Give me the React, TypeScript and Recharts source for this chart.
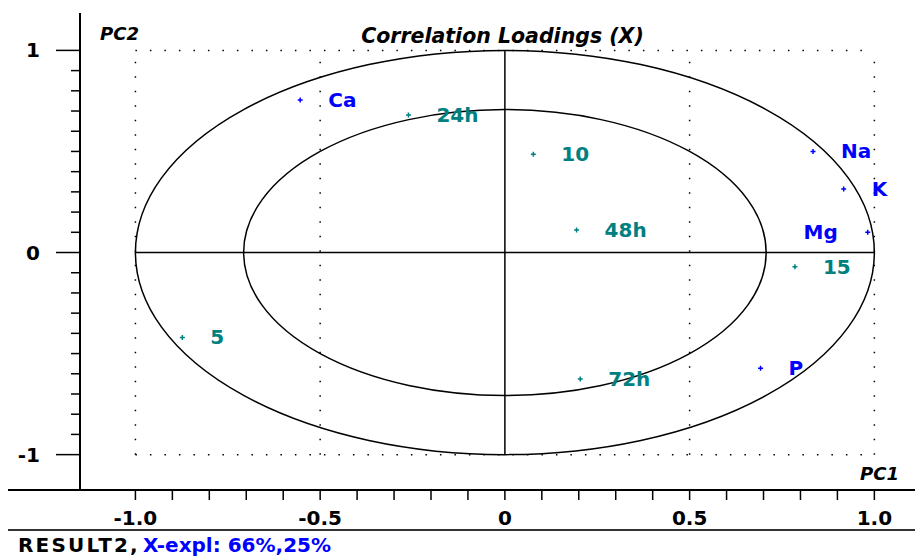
import React from "react"
import {
  ScatterChart,
  Scatter,
  XAxis,
  YAxis,
  ReferenceLine,
  ReferenceArea,
} from "recharts"

// X-variables (minerals)
const xVars = ["Ca", "Na", "K", "Mg", "P"]
const xVarPC1 = [-0.554, 0.834, 0.917, 0.982, 0.692]
const xVarPC2 = [0.755, 0.5, 0.314, 0.1, -0.573]

// Y-variables (time / dose)
const yVars = ["24h", "10", "48h", "15", "5", "72h"]
const yVarPC1 = [-0.261, 0.077, 0.194, 0.785, -0.873, 0.204]
const yVarPC2 = [0.68, 0.486, 0.111, -0.07, -0.42, -0.626]

const xTicks = [-1, -0.9, -0.8, -0.7, -0.6, -0.5, -0.4, -0.3, -0.2, -0.1, 0, 0.1, 0.2, 0.3, 0.4, 0.5, 0.6, 0.7, 0.8, 0.9, 1]
const xTickLabels: [number, string][] = [[-1, "-1.0"], [-0.5, "-0.5"], [0, "0"], [0.5, "0.5"], [1, "1.0"]]
const yTicks = [-1, -0.9, -0.8, -0.7, -0.6, -0.5, -0.4, -0.3, -0.2, -0.1, 0, 0.1, 0.2, 0.3, 0.4, 0.5, 0.6, 0.7, 0.8, 0.9, 1]
const yTickLabels: [number, string][] = [[-1, "-1"], [0, "0"], [1, "1"]]

// correlation circles: 100% and 50% explained variance
const circleRadii = [1, 0.7071]
const dottedX = [-1, -0.5, 0.5, 1]
const dottedY = [-1, 1]

const LEFT_LABELS = new Set(["Mg"])

const W = 915
const H = 557
const FONT = '"DejaVu Sans", Verdana, sans-serif'
const BLUE = "#0000ff"
const TEAL = "#008080"

const xPoints = xVars.map((name, i) => ({ name, x: xVarPC1[i], y: xVarPC2[i] }))
const yPoints = yVars.map((name, i) => ({ name, x: yVarPC1[i], y: yVarPC2[i] }))

const findLabel = (list: [number, string][], v: number) =>
  list.find(([t]) => Math.abs(t - v) < 1e-6)?.[1]

function XTick({ x, y, payload }: any) {
  const label = findLabel(xTickLabels, payload.value)
  return (
    <g>
      <line x1={x} x2={x} y1={y} y2={y + 10} stroke="#000" strokeWidth={1.5} />
      {label && (
        <text x={x} y={y + 35} textAnchor="middle" fontFamily={FONT} fontWeight="bold" fontSize={20} fill="#000">
          {label}
        </text>
      )}
    </g>
  )
}

function YTick({ x, y, payload }: any) {
  const label = findLabel(yTickLabels, payload.value)
  return (
    <g>
      <line x1={x - (label ? 24 : 9)} x2={x} y1={y} y2={y} stroke="#000" strokeWidth={1.5} />
      {label && (
        <text x={x - 40} y={y + 7} textAnchor="end" fontFamily={FONT} fontWeight="bold" fontSize={20} fill="#000">
          {label}
        </text>
      )}
    </g>
  )
}

function LoadingMark({ cx, cy, payload, color }: any) {
  const left = LEFT_LABELS.has(payload.name)
  return (
    <g>
      <path d={`M${cx - 2.5},${cy}H${cx + 2.5}M${cx},${cy - 2.5}V${cy + 2.5}`} stroke={color} strokeWidth={1.5} />
      <text
        x={left ? cx - 30 : cx + 28}
        y={cy + 7}
        textAnchor={left ? "end" : "start"}
        fontFamily={FONT}
        fontWeight="bold"
        fontSize={20}
        fill={color}
      >
        {payload.name}
      </text>
    </g>
  )
}

function Ellipse({ x, y, width, height }: any) {
  return (
    <ellipse cx={x + width / 2} cy={y + height / 2} rx={width / 2} ry={height / 2} fill="none" stroke="#000" strokeWidth={1.5} />
  )
}

export default function App() {
  return (
    <div style={{ position: "absolute", left: 0, top: 0, width: W, height: H, background: "#fff" }}>
      <ScatterChart width={W} height={H} margin={{ top: 13, right: 0, bottom: 27, left: 0 }}>
        <XAxis
          type="number"
          dataKey="x"
          domain={[-1.15, 1.11]}
          ticks={xTicks}
          interval={0}
          tickSize={0}
          tickMargin={0}
          tickLine={false}
          axisLine={{ stroke: "#000", strokeWidth: 2 }}
          tick={<XTick />}
          height={40}
          allowDataOverflow
        />
        <YAxis
          type="number"
          dataKey="y"
          domain={[-1.175, 1.185]}
          ticks={yTicks}
          interval={0}
          tickSize={0}
          tickMargin={0}
          tickLine={false}
          axisLine={{ stroke: "#000", strokeWidth: 2 }}
          tick={<YTick />}
          width={80}
          allowDataOverflow
        />

        {dottedX.map((v) => (
          <ReferenceLine key={"dx" + v} segment={[{ x: v, y: -1 }, { x: v, y: 1 }]} stroke="#000" strokeWidth={1.5} strokeDasharray="1.5 13" />
        ))}
        {dottedY.map((v) => (
          <ReferenceLine key={"dy" + v} segment={[{ x: -1, y: v }, { x: 1, y: v }]} stroke="#000" strokeWidth={1.5} strokeDasharray="1.5 13" />
        ))}
        <ReferenceLine segment={[{ x: -1, y: 0 }, { x: 1, y: 0 }]} stroke="#000" strokeWidth={1.5} />
        <ReferenceLine segment={[{ x: 0, y: -1 }, { x: 0, y: 1 }]} stroke="#000" strokeWidth={1.5} />
        {circleRadii.map((r) => (
          <ReferenceArea key={"c" + r} x1={-r} x2={r} y1={-r} y2={r} shape={<Ellipse />} />
        ))}

        <Scatter data={xPoints} isAnimationActive={false} shape={(p: any) => <LoadingMark {...p} color={BLUE} />} />
        <Scatter data={yPoints} isAnimationActive={false} shape={(p: any) => <LoadingMark {...p} color={TEAL} />} />
      </ScatterChart>

      <svg width={W} height={H} style={{ position: "absolute", left: 0, top: 0, pointerEvents: "none" }}>
        <line x1={8} x2={80} y1={490} y2={490} stroke="#000" strokeWidth={2} />
        <line x1={8} x2={W} y1={530} y2={530} stroke="#333" strokeWidth={2} />
        <text x={502.5} y={43} textAnchor="middle" fontFamily={FONT} fontWeight="bold" fontStyle="italic" fontSize={20.5} fill="#000">
          Correlation Loadings (X)
        </text>
        <text x={100} y={40} fontFamily={FONT} fontWeight="bold" fontStyle="italic" fontSize={18} fill="#000">
          PC2
        </text>
        <text x={860} y={480} fontFamily={FONT} fontWeight="bold" fontStyle="italic" fontSize={18} fill="#000">
          PC1
        </text>
        <text y={551.5} fontFamily={FONT} fontWeight="bold" fontSize={20}>
          <tspan x={18} fill="#000" letterSpacing={2.2}>RESULT2,</tspan>
          <tspan x={143} fill={BLUE}>X-expl: 66%,25%</tspan>
        </text>
      </svg>
    </div>
  )
}
